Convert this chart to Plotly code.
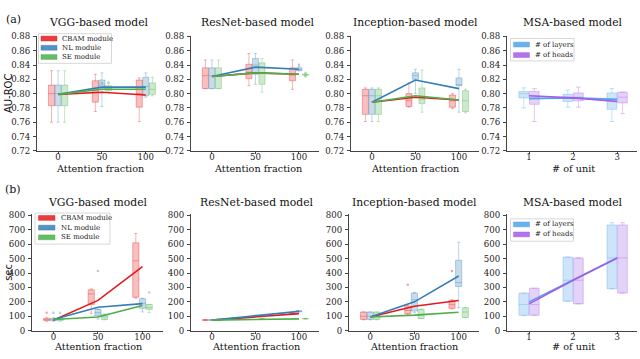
import plotly.graph_objects as go

W, H = 640, 359

# ---------------- data ----------------
attn_series = ["CBAM module", "NL module", "SE module"]
msa_series = ["# of layers", "# of heads"]
attn_x = [0, 50, 100]
msa_x = [1, 2, 3]
attn_ticks = ["0", "50", "100"]
msa_ticks = ["1", "2", "3"]
model_titles = ["VGG-based model", "ResNet-based model", "Inception-based model", "MSA-based model"]
attn_xlabel = "Attention fraction"
msa_xlabel = "# of unit"
row_ylabels = ["AU-ROC", "sec"]
row_tags = ["(a)", "(b)"]
auc_ticks = [0.72, 0.74, 0.76, 0.78, 0.80, 0.82, 0.84, 0.86, 0.88]
sec_ticks = [0, 100, 200, 300, 400, 500, 600, 700, 800]

# box statistics per x: (lower whisker, q1, median, q3, upper whisker)
auc_vgg_cbam = [(0.760, 0.783, 0.800, 0.812, 0.832), (0.775, 0.788, 0.805, 0.818, 0.827), (0.761, 0.781, 0.800, 0.819, 0.822)]
auc_vgg_nl = [(0.760, 0.783, 0.800, 0.812, 0.832), (0.782, 0.806, 0.812, 0.819, 0.829), (0.795, 0.797, 0.810, 0.823, 0.829)]
auc_vgg_se = [(0.760, 0.783, 0.800, 0.812, 0.832), (0.801, 0.804, 0.807, 0.811, 0.814), (0.797, 0.799, 0.806, 0.815, 0.823)]
auc_vgg_mean = [[0.799, 0.802, 0.798], [0.799, 0.809, 0.809], [0.799, 0.806, 0.806]]

auc_res_cbam = [(0.807, 0.807, 0.825, 0.836, 0.847), (0.811, 0.821, 0.830, 0.841, 0.856), (0.806, 0.818, 0.826, 0.836, 0.847)]
auc_res_nl = [(0.807, 0.807, 0.825, 0.836, 0.847), (0.813, 0.827, 0.840, 0.849, 0.856), (0.832, 0.832, 0.834, 0.836, 0.838)]
auc_res_se = [(0.807, 0.807, 0.825, 0.836, 0.847), (0.802, 0.813, 0.828, 0.843, 0.849), (0.825, 0.826, 0.826, 0.827, 0.828)]
auc_res_mean = [[0.824, 0.829, 0.827], [0.824, 0.837, 0.834], [0.824, 0.829, 0.827]]

auc_inc_cbam = [(0.761, 0.771, 0.797, 0.806, 0.808), (0.781, 0.782, 0.790, 0.800, 0.815), (0.779, 0.781, 0.790, 0.798, 0.800)]
auc_inc_nl = [(0.761, 0.771, 0.797, 0.806, 0.808), (0.800, 0.820, 0.825, 0.829, 0.834), (0.774, 0.811, 0.812, 0.822, 0.834)]
auc_inc_se = [(0.761, 0.771, 0.797, 0.806, 0.808), (0.774, 0.786, 0.792, 0.808, 0.833), (0.773, 0.775, 0.790, 0.804, 0.806)]
auc_inc_mean = [[0.788, 0.795, 0.791], [0.788, 0.819, 0.807], [0.788, 0.797, 0.791]]

auc_msa_layers = [(0.780, 0.794, 0.800, 0.803, 0.808), (0.781, 0.789, 0.795, 0.799, 0.805), (0.761, 0.778, 0.790, 0.801, 0.807)]
auc_msa_heads = [(0.761, 0.785, 0.795, 0.803, 0.807), (0.781, 0.790, 0.795, 0.801, 0.809), (0.772, 0.787, 0.795, 0.802, 0.802)]
auc_msa_mean = [[0.793, 0.794, 0.792], [0.797, 0.794, 0.789]]

sec_vgg_cbam = [(65, 70, 75, 85, 90), (120, 182, 255, 284, 290), (225, 232, 485, 610, 675)]
sec_vgg_nl = [(65, 70, 75, 85, 90), (80, 102, 125, 148, 150), (130, 155, 190, 222, 225)]
sec_vgg_se = [(65, 70, 75, 85, 90), (75, 78, 95, 114, 115), (125, 148, 160, 182, 182)]
sec_vgg_mean = [[72, 210, 445], [78, 163, 188], [78, 95, 175]]

sec_res_cbam = [(70, 72, 74, 76, 78), (92, 95, 97, 99, 101), (112, 115, 118, 121, 124)]
sec_res_nl = [(70, 72, 74, 76, 78), (98, 101, 103, 105, 108), (128, 132, 135, 138, 140)]
sec_res_se = [(70, 72, 74, 76, 78), (78, 80, 81, 82, 84), (80, 82, 83, 84, 86)]
sec_res_mean = [[73, 97, 118], [73, 104, 134], [73, 78, 82]]

sec_inc_cbam = [(75, 78, 100, 130, 130), (110, 118, 140, 170, 175), (150, 155, 180, 209, 215)]
sec_inc_nl = [(75, 78, 100, 130, 130), (125, 136, 215, 261, 265), (159, 307, 334, 489, 614)]
sec_inc_se = [(75, 78, 100, 130, 130), (84, 84, 110, 148, 150), (91, 91, 130, 159, 160)]
sec_inc_mean = [[95, 170, 210], [95, 200, 380], [95, 108, 128]]

sec_msa_layers = [(105, 107, 182, 261, 261), (205, 205, 350, 511, 511), (291, 291, 505, 734, 750)]
sec_msa_heads = [(107, 107, 182, 295, 295), (186, 186, 350, 505, 505), (261, 261, 505, 734, 750)]
sec_msa_mean = [[200, 350, 505], [186, 350, 505]]

# outliers: (series index, x index, value)
auc_vgg_out = [(2, 1, 0.816), (1, 1, 0.815)]
auc_res_out = [(1, 2, 0.8405), (2, 2, 0.829), (2, 2, 0.824)]
auc_inc_out = []
sec_vgg_out = [(0, 0, 125), (1, 0, 125), (2, 0, 125), (1, 1, 415), (2, 2, 265)]
sec_res_out = []
sec_inc_out = [(0, 1, 318), (0, 2, 414)]

# ---------------- styling ----------------
attn_colors = [(228, 26, 28), (55, 126, 184), (77, 175, 74)]
msa_colors = [(80, 163, 235), (163, 92, 232)]
SERIF = "'DejaVu Serif', 'Liberation Serif', serif"
SANS = "'DejaVu Sans', sans-serif"
AX = "#444444"


def rgba(c, a):
    return "rgba(%d,%d,%d,%.3f)" % (c[0], c[1], c[2], a)


def px(x):
    return x / W


def py(y):
    return 1 - y / H


panels = [
    dict(row=0, col=0, boxes=[auc_vgg_cbam, auc_vgg_nl, auc_vgg_se], means=auc_vgg_mean, outs=auc_vgg_out, dom=(37, 166)),
    dict(row=0, col=1, boxes=[auc_res_cbam, auc_res_nl, auc_res_se], means=auc_res_mean, outs=auc_res_out, dom=(191, 319)),
    dict(row=0, col=2, boxes=[auc_inc_cbam, auc_inc_nl, auc_inc_se], means=auc_inc_mean, outs=auc_inc_out, dom=(351, 479)),
    dict(row=0, col=3, boxes=[auc_msa_layers, auc_msa_heads], means=auc_msa_mean, outs=[], dom=(507, 637)),
    dict(row=1, col=0, boxes=[sec_vgg_cbam, sec_vgg_nl, sec_vgg_se], means=sec_vgg_mean, outs=sec_vgg_out, dom=(32, 163)),
    dict(row=1, col=1, boxes=[sec_res_cbam, sec_res_nl, sec_res_se], means=sec_res_mean, outs=sec_res_out, dom=(191, 319)),
    dict(row=1, col=2, boxes=[sec_inc_cbam, sec_inc_nl, sec_inc_se], means=sec_inc_mean, outs=sec_inc_out, dom=(349, 479)),
    dict(row=1, col=3, boxes=[sec_msa_layers, sec_msa_heads], means=sec_msa_mean, outs=[], dom=(507, 637)),
]

row_ydom = [(150, 32.3), (335, 215)]
row_yrange = [[0.72, 0.88], [0, 810]]
row_yticks = [auc_ticks, sec_ticks]
row_yfmt = [".2f", "d"]
title_y = [17.5, 203]
xlabel_y = [168, 351.5]
title_cx = [[99, 258, 415, 573], [98, 257, 414.5, 573]]
xlabel_cx = [[100, 258, 415, 573.5], [98, 256, 414, 573]]

fig = go.Figure()
layout = dict(
    width=W, height=H, margin=dict(l=0, r=0, t=0, b=0, pad=0),
    paper_bgcolor="white", plot_bgcolor="white", showlegend=False,
    boxmode="overlay", font=dict(family=SERIF),
)
annotations = []
shapes = []

for i, p in enumerate(panels):
    n = i + 1
    xa = "x" if n == 1 else "x%d" % n
    ya = "y" if n == 1 else "y%d" % n
    is_msa = p["col"] == 3
    xs = msa_x if is_msa else attn_x
    colors = msa_colors if is_msa else attn_colors
    nser = len(p["boxes"])
    if is_msa:
        offs, bw, xr = [-0.12, 0.12], 0.22, [0.5, 3.45]
    else:
        offs, bw, xr = [-7.5, 0, 7.5], 7.0, [-24, 123]

    for s in range(nser):
        st = p["boxes"][s]
        c = colors[s]
        fig.add_trace(go.Box(
            x=[xv + offs[s] for xv in xs],
            lowerfence=[b[0] for b in st], q1=[b[1] for b in st], median=[b[2] for b in st],
            q3=[b[3] for b in st], upperfence=[b[4] for b in st],
            width=bw, whiskerwidth=0.5, boxpoints=False,
            fillcolor=rgba(c, 0.28), line=dict(color=rgba(c, 0.33), width=1),
            xaxis=xa, yaxis=ya, hoverinfo="skip",
        ))
    for (s, k, v) in p["outs"]:
        fig.add_trace(go.Scatter(
            x=[xs[k] + offs[s]], y=[v], mode="markers",
            marker=dict(size=2.5, color=rgba(colors[s], 0.4)),
            xaxis=xa, yaxis=ya, hoverinfo="skip",
        ))
    for s in range(nser):
        fig.add_trace(go.Scatter(
            x=xs, y=p["means"][s], mode="lines",
            line=dict(color=rgba(colors[s], 1.0), width=1.6),
            xaxis=xa, yaxis=ya, hoverinfo="skip",
        ))

    r = p["row"]
    d0, d1 = p["dom"]
    yb, yt = row_ydom[r]
    layout["xaxis" if n == 1 else "xaxis%d" % n] = dict(
        domain=[px(d0), px(d1)], anchor=ya, range=xr,
        tickvals=xs, ticktext=msa_ticks if is_msa else attn_ticks,
        showline=True, linecolor=AX, linewidth=1, ticks="outside", ticklen=2,
        tickcolor=AX, showgrid=False, zeroline=False, ticklabelstandoff=-4,
        tickfont=dict(family=SERIF, size=8.6, color="#222"),
    )
    layout["yaxis" if n == 1 else "yaxis%d" % n] = dict(
        domain=[py(yb), py(yt)], anchor=xa, range=row_yrange[r],
        tickvals=row_yticks[r], tickformat=row_yfmt[r],
        showline=True, linecolor=AX, linewidth=1, ticks="outside", ticklen=3,
        tickcolor=AX, showgrid=False, zeroline=False, ticklabelstandoff=1,
        tickfont=dict(family=SERIF, size=8.6, color="#222"),
    )
    annotations.append(dict(
        text=model_titles[p["col"]], x=px(title_cx[r][p["col"]]), y=py(title_y[r]),
        xref="paper", yref="paper", showarrow=False, xanchor="center", yanchor="middle",
        font=dict(family=SERIF, size=10.8, color="#111"),
    ))
    annotations.append(dict(
        text=msa_xlabel if is_msa else attn_xlabel, x=px(xlabel_cx[r][p["col"]]), y=py(xlabel_y[r]),
        xref="paper", yref="paper", showarrow=False, xanchor="center", yanchor="middle",
        font=dict(family=SERIF, size=9.7, color="#111"),
    ))

for r in range(2):
    yb, yt = row_ydom[r]
    annotations.append(dict(
        text=row_ylabels[r], x=px(8.5), y=py((yb + yt) / 2), textangle=-90,
        xref="paper", yref="paper", showarrow=False, xanchor="center", yanchor="middle",
        font=dict(family=SANS, size=10, color="#111"),
    ))
annotations.append(dict(text=row_tags[0], x=px(13.5), y=py(15), xref="paper", yref="paper",
                        showarrow=False, xanchor="center", yanchor="middle",
                        font=dict(family=SERIF, size=11, color="#111")))
annotations.append(dict(text=row_tags[1], x=px(12.5), y=py(190), xref="paper", yref="paper",
                        showarrow=False, xanchor="center", yanchor="middle",
                        font=dict(family=SERIF, size=11, color="#111")))


def add_legend(frame, patch_x, text_x, item_ys, names, colors):
    x0, y0, x1, y1 = frame
    shapes.append(dict(type="rect", xref="paper", yref="paper", x0=px(x0), x1=px(x1),
                       y0=py(y1), y1=py(y0), line=dict(color="#d8d8d8", width=1),
                       fillcolor="rgba(255,255,255,0.85)", layer="above"))
    for name, c, yy in zip(names, colors, item_ys):
        shapes.append(dict(type="rect", xref="paper", yref="paper",
                           x0=px(patch_x[0]), x1=px(patch_x[1]), y0=py(yy + 2.5), y1=py(yy - 2.5),
                           line=dict(color=rgba(c, 0.45), width=1), fillcolor=rgba(c, 0.85),
                           layer="above"))
        annotations.append(dict(text=name, x=px(text_x), y=py(yy), xref="paper", yref="paper",
                                showarrow=False, xanchor="left", yanchor="middle",
                                font=dict(family=SERIF, size=7, color="#222")))


add_legend((38.5, 29.5, 111.5, 60), (41, 57), 60, [34.5, 44, 53.5], attn_series, attn_colors)
add_legend((35, 214, 110, 246), (38.5, 55), 58.5, [219, 229, 239], attn_series, attn_colors)
add_legend((510.5, 34.5, 574, 57.5), (513.5, 529.5), 533, [40.7, 51.5], msa_series, msa_colors)
add_legend((510.5, 220, 573.5, 243), (513.5, 529.5), 533, [225.7, 236], msa_series, msa_colors)

layout["annotations"] = annotations
layout["shapes"] = shapes
fig.update_layout(**layout)
fig.write_html(
    "out.html",
    config={"displayModeBar": False, "staticPlot": True},
    post_script="document.body.style.margin='0px';document.body.style.overflow='hidden';",
)
